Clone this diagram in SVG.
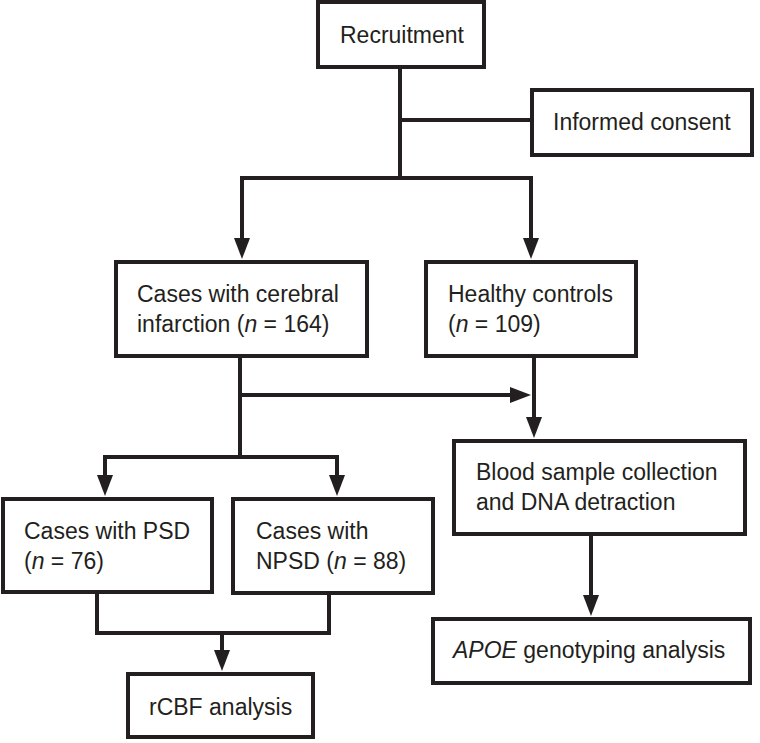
<svg xmlns="http://www.w3.org/2000/svg" width="760" height="743" viewBox="0 0 760 743">
<defs>
<style>
.box{fill:#fff;stroke:#231f20;stroke-width:4}
.t{font-family:"Liberation Sans",Arial,sans-serif;font-size:23px;fill:#231f20}
.c{fill:none;stroke:#231f20;stroke-width:4;stroke-linejoin:miter}
.a{marker-end:url(#ah)}
.a2{marker-start:url(#ah);marker-end:url(#ah)}
</style>
<marker id="ah" markerUnits="userSpaceOnUse" markerWidth="22" markerHeight="18" refX="1" refY="8" orient="auto-start-reverse" viewBox="0 0 22 16">
<path d="M0,0 L21,8 L0,16 z" fill="#231f20"/>
</marker>
</defs>
<rect width="760" height="743" fill="#fff"/>
<g id="connectors">
<path class="c" d="M400,67 V180"/>
<path class="c" d="M400,120 H532"/>
<path class="a2 c" d="M242,239 V178 H531 V239"/>
<path class="c" d="M240,356 V459"/>
<path class="a c" d="M240,395 H511"/>
<path class="a c" d="M534,356 V418"/>
<path class="a2 c" d="M105,476 V457 H337 V476"/>
<path class="c" d="M97,592 V633 H329 V593"/>
<path class="a c" d="M222,633 V651"/>
<path class="a c" d="M591,535 V596"/>
</g>
<g id="recruitment"><rect class="box" x="318" y="2" width="166" height="65"/><text class="t" x="340" y="43">Recruitment</text></g>
<g id="consent"><rect class="box" x="532" y="90" width="220" height="65"/><text class="t" x="553" y="130">Informed consent</text></g>
<g id="cases"><rect class="box" x="116" y="262" width="251" height="94"/><text class="t" x="137" y="302">Cases with cerebral</text><text class="t" x="137" y="332">infarction (<tspan font-style="italic">n</tspan> = 164)</text></g>
<g id="controls"><rect class="box" x="426" y="262" width="210" height="94"/><text class="t" x="448" y="302">Healthy controls</text><text class="t" x="448" y="332">(<tspan font-style="italic">n</tspan> = 109)</text></g>
<g id="blood"><rect class="box" x="454" y="441" width="291" height="93"/><text class="t" x="476" y="480">Blood sample collection</text><text class="t" x="476" y="510">and DNA detraction</text></g>
<g id="psd"><rect class="box" x="3" y="499" width="209" height="93"/><text class="t" x="24" y="539">Cases with PSD</text><text class="t" x="24" y="569">(<tspan font-style="italic">n</tspan> = 76)</text></g>
<g id="npsd"><rect class="box" x="233" y="499" width="200" height="94"/><text class="t" x="256" y="539">Cases with</text><text class="t" x="256" y="569">NPSD (<tspan font-style="italic">n</tspan> = 88)</text></g>
<g id="apoe"><rect class="box" x="433" y="619" width="317" height="64"/><text class="t" x="453" y="658"><tspan font-style="italic">APOE</tspan> genotyping analysis</text></g>
<g id="rcbf"><rect class="box" x="128" y="674" width="185" height="63"/><text class="t" x="149" y="715">rCBF analysis</text></g>
</svg>
